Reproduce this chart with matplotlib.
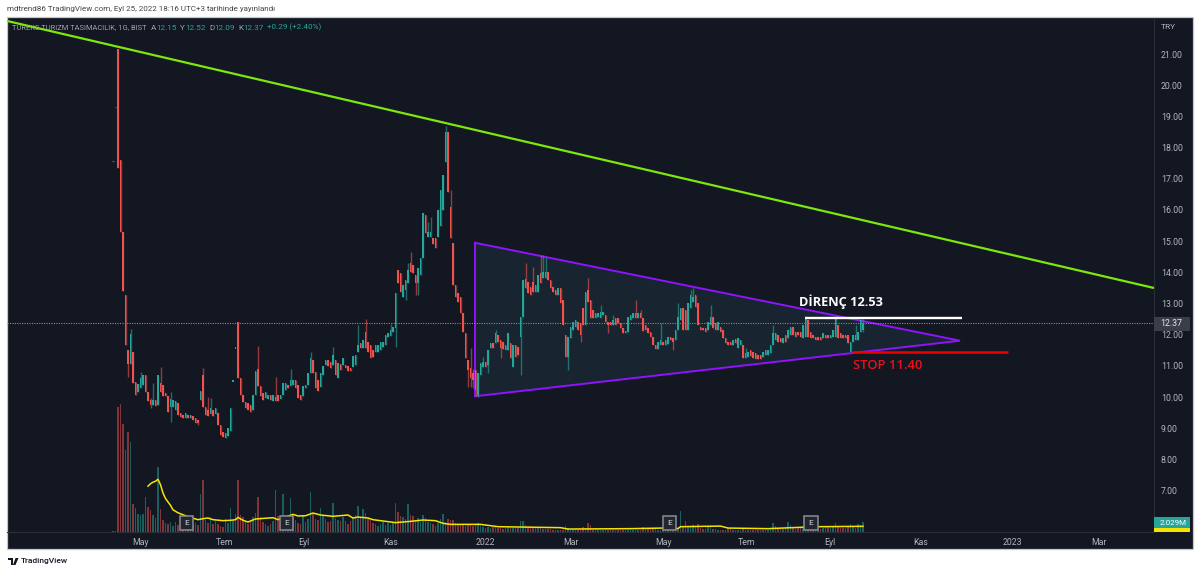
import matplotlib
matplotlib.use("Agg")
import matplotlib.pyplot as plt
from matplotlib.patches import Rectangle, Polygon
import numpy as np

W, H = 1200, 573
BG = "#131722"; UP = "#26a69a"; DOWN = "#ef5350"; AXT = "#b2b5be"

pre_prices = [17.57, 19.3]
pre_volume = [0.2, 0.3]
opens = [
 21.15,17.6,15.3,13.28,11.52,11.07,11.45,10.5,10.17,10.3,
 10.4,10.72,10.17,9.92,9.76,9.9,9.76,10.46,10.4,10.14,
 10.05,9.69,9.69,9.6,9.82,9.5,9.44,9.34,9.44,9.34,
 9.4,9.34,9.27,9.92,10.72,9.69,9.6,9.47,9.6,9.47,
 9.5,9.11,8.89,8.7,8.76,8.92,10.5,11.55,12.42,10.62,
 10.08,9.85,9.82,9.76,9.6,10.08,10.91,10.37,10.14,9.98,
 9.95,10.08,9.88,10.01,10.08,9.95,10.08,10.24,10.4,10.37,
 10.4,10.56,10.4,10.08,10.05,10.3,10.4,10.78,11.2,10.81,
 10.56,10.33,10.72,11.04,11.2,11.13,11.04,11.2,10.62,11.07,
 11.04,11.04,11.0,10.94,10.97,11.04,11.45,11.74,11.58,12.1,
 11.78,11.68,11.52,11.45,11.45,11.52,11.62,11.68,11.94,11.97,
 12.1,12.22,14.08,13.99,13.22,13.44,13.67,14.31,14.24,13.92,
 13.67,13.92,14.47,15.85,15.14,15.14,15.11,15.11,15.14,15.5,
 16.0,17.54,18.5,16.1,14.95,13.6,13.35,13.22,12.71,12.06,
 11.2,10.94,10.78,10.88,10.08,10.72,10.97,11.13,11.04,11.58,
 11.74,11.74,12.0,11.84,11.78,11.52,11.52,11.74,10.97,11.68,
 11.62,11.94,12.58,13.79,13.7,13.54,13.7,13.38,13.38,13.99,
 13.82,13.82,14.02,13.76,13.54,13.44,13.28,13.5,13.12,12.0,
 11.3,11.9,12.16,12.26,12.42,12.38,12.87,12.32,13.44,13.12,
 12.8,12.54,12.58,12.54,12.64,12.64,12.42,12.42,12.32,12.54,
 12.54,12.38,12.22,12.06,12.1,12.48,12.54,12.71,12.54,12.71,
 12.54,12.32,12.22,12.1,11.94,11.68,11.55,11.68,11.78,11.68,
 11.71,11.94,11.9,11.84,12.16,12.48,12.87,12.8,12.16,12.87,
 13.06,13.28,13.03,12.26,12.22,12.22,12.16,12.32,12.58,12.38,
 12.16,12.26,12.16,11.9,11.78,11.78,11.68,11.87,11.58,11.68,
 11.68,11.26,11.3,11.52,11.45,11.42,11.36,11.36,11.3,11.36,
 11.36,11.42,11.68,11.84,12.0,11.9,11.74,12.0,11.9,12.0,
 12.26,12.1,12.1,12.1,11.9,11.94,12.48,12.1,12.0,11.94,
 11.94,11.94,11.9,12.0,12.0,11.9,11.94,11.94,12.32,12.06,
 12.0,12.0,12.0,11.45,11.78,11.84,11.84,12.1,12.15]
closes = [
 17.35,15.3,13.4,11.68,11.07,12.03,10.46,10.08,10.43,10.62,
 10.72,10.17,9.88,9.76,9.92,9.72,10.72,10.17,10.05,10.05,
 9.53,9.95,9.92,9.88,9.44,9.37,9.34,9.5,9.34,9.44,
 9.27,9.18,9.18,10.2,9.69,9.44,9.41,9.66,9.4,9.66,
 9.11,8.8,8.73,8.86,9.02,9.66,10.5,11.55,10.62,10.08,
 9.85,9.66,9.6,9.53,10.08,10.85,10.37,10.05,9.92,10.17,
 10.08,9.92,10.08,9.88,9.88,10.08,10.46,10.46,10.3,10.56,
 10.56,10.3,9.98,9.92,10.37,10.4,10.78,11.26,10.78,10.3,
 10.2,10.78,11.0,11.2,11.0,10.94,11.36,10.72,11.1,10.88,
 11.26,10.94,10.85,10.85,11.33,11.36,11.68,11.58,11.84,11.58,
 11.45,11.26,11.3,11.68,11.68,11.78,11.78,12.0,12.06,12.16,
 12.26,13.35,13.67,13.38,13.6,13.76,14.08,14.02,13.99,13.67,
 14.15,14.47,15.91,15.27,15.3,15.3,14.92,14.79,16.0,16.65,
 17.13,18.5,16.58,15.11,13.6,13.22,13.06,12.71,12.1,11.26,
 10.88,10.62,10.56,10.24,10.78,11.1,11.13,10.97,11.52,11.74,
 11.58,12.06,11.78,11.58,11.55,11.68,12.06,11.26,11.68,11.3,
 11.36,12.58,13.76,13.5,13.35,13.28,13.38,13.6,13.92,13.67,
 14.02,14.02,13.76,13.5,13.38,13.28,13.5,13.03,12.32,11.3,
 11.94,12.26,12.42,12.48,12.16,12.0,12.32,13.38,13.06,12.54,
 12.54,12.71,12.71,12.74,12.74,12.42,12.32,12.32,12.48,12.32,
 12.38,12.22,12.06,12.13,12.58,12.64,12.71,12.54,12.71,12.54,
 12.13,12.16,12.06,11.94,11.68,11.55,11.78,11.84,11.68,11.84,
 11.94,11.84,11.78,12.16,12.58,12.87,12.16,12.16,13.03,13.28,
 13.22,12.9,12.32,12.16,12.16,12.1,12.42,12.58,12.22,12.16,
 12.42,12.1,11.9,11.74,11.68,11.68,11.84,11.74,11.9,11.84,
 11.26,11.42,11.45,11.33,11.26,11.23,11.23,11.23,11.45,11.52,
 11.52,11.68,12.06,12.06,11.78,11.78,11.9,11.78,12.16,12.26,
 12.0,11.94,12.0,11.94,12.32,12.54,11.94,11.9,11.9,11.84,
 11.84,11.84,12.06,11.9,11.9,12.0,12.16,12.54,11.9,11.9,
 11.9,11.9,11.74,11.78,12.0,12.0,12.1,12.48,12.37]
high_wicks = {5:12.19,9:10.81,13:9.98,14:10.46,17:10.97,21:10.17,34:10.95,36:10.0,37:9.98,56:11.65,
 63:10.65,69:10.91,77:11.45,86:11.62,96:12.32,99:12.51,109:12.35,116:14.31,117:14.66,124:15.6,
 125:15.78,131:18.7,133:16.65,141:11.58,142:10.9,146:11.3,151:12.15,163:14.31,166:14.18,169:14.56,
 170:14.56,171:14.5,188:13.82,193:12.96,198:12.64,207:13.12,209:12.8,217:12.38,224:13.03,229:13.44,
 230:13.5,237:12.96,251:11.58,262:12.32,275:12.6,287:12.6,295:12.32,297:12.52,298:12.52}
low_wicks = {4:10.65,13:9.66,21:9.21,32:9.1,111:11.62,115:13.12,119:13.28,120:13.28,140:10.33,141:10.33,
 142:10.3,143:10.05,144:10.0,148:10.78,153:11.26,161:10.72,180:10.88,185:11.78,196:12.06,222:11.5,298:12.09}
volume = [
 25.4,26,22,16.6,20.3,18.3,5.7,4.8,3.6,3.4,
 3.7,7.1,5,4.5,3.4,2.8,13.2,4.7,2.5,1.9,
 1.6,2,1.2,2.1,1.5,1.1,.9,1.4,.8,1.2,
 1.4,1.8,1.4,7.8,10.6,2.4,1.8,3,1.6,2.2,
 1.6,1.3,1,2.6,1.8,4.8,2.5,3.6,10.5,3.5,
 3,2.2,1.6,2.2,3,3.8,7.2,3,2,1.6,
 1.3,1.7,2.2,8.5,3.2,2.4,7.8,3.5,2.2,7,
 2.8,2.4,1.8,1.6,3.2,2,2.6,8.1,3.7,2.6,
 2.4,4.8,3.5,2.6,2,2.2,5.9,2.8,2.5,2.2,
 3,2.2,1.6,2.2,2.8,3.5,5.2,3,4.6,3.8,
 2.6,2.4,1.8,1.6,1.2,1.6,2,1.4,1.8,1.4,
 2,5.9,4,3.2,3,2.6,5.7,3.5,3.2,2.4,
 2.8,2,3.4,2.8,2,1.8,1.6,1.3,1.8,2.6,
 3.7,2,2.6,2.4,2.4,1.8,1.6,1.6,1.4,1.2,
 1.4,1.6,1.2,1.4,1.8,1.2,1,.9,1,.8,
 1,1,.9,.8,.7,.8,1,.9,.8,.8,
 .9,2.2,2.2,1.4,1.1,1.2,.9,.8,.8,.9,
 .7,.6,.7,.6,.5,.5,.4,.4,.5,1.2,
 .8,.5,.4,.4,.4,.5,1,.9,1.9,1.4,
 .5,.4,.5,.4,.4,.5,.4,.4,.4,.5,
 .4,.5,.5,.4,.5,.4,.5,.4,.4,.5,
 1,.8,.9,.6,.7,.8,.5,.5,.6,.5,
 .5,.6,.8,.6,.7,4.3,1.2,2.2,1,1.2,
 1.4,1.2,1.6,.9,.7,.7,1,1.1,.7,.6,
 .5,.4,.5,.5,.6,.6,.5,.4,.5,.4,
 .6,.4,.5,.4,.4,.5,.4,.5,.4,.5,
 .5,.6,1.8,1.2,.7,.7,.6,.8,2.1,1.4,
 .9,.7,.9,.8,1.2,1.6,1.3,.9,.7,.7,
 .9,.7,.8,1.3,1,.8,1,1.8,1.2,.9,
 .9,.8,1.1,1.7,1.2,.9,1.7,1.5,2.03]
ma_bars = [12,13,14,15,16,17,18,19,21,22,24,26,28,30,32,34,36,38,42,45,47,48,50,52,55,62,64,67,70,72,75,78,81,86,92,94,96,100,102,108,111,117,122,127,130,133,145,152,177,180,205,218,224,225,241,244,260,273,281,298]
ma_vals = [9.3,9.8,10.1,10.3,10.7,9.6,7.9,6.8,5.4,4.5,3.9,3.5,3.1,2.8,2.5,2.7,2.84,2.5,2.3,2.37,2.5,2.97,2.37,2.03,2.64,2.9,2.5,3.04,3.58,3.25,3.3,3.85,3.45,3.18,3.45,2.84,3.04,2.84,2.5,2.1,1.9,2.16,2.43,2.3,1.76,1.55,1.55,1.08,.88,.6,.68,.8,.7,1.08,1.2,.8,.68,.95,1.08,1.15]
time_labels = ["May","Tem","Eyl","Kas","2022","Mar","May","Tem","Eyl","Kas","2023","Mar"]
time_bars = [8.8,42.4,74.4,109.2,146.8,181.2,218,251.2,284.8,321.2,357.6,392.4]
price_ticks = list(range(7, 22))
earn_bars = [27.4,67.4,220.6,277.2]
green_line = ([-44.4,414.4],[22.06,13.5])
triangle = ([142.8,142.8,336.8],[14.95,10.03,11.81])
resistance = ([274.8,337.6],[12.53,12.53])
stop = ([293.6,356],[11.45,11.45])
last_price = 12.37

plt.rcParams['font.family'] = ['Roboto','DejaVu Sans']
fig = plt.figure(figsize=(W/100, H/100), dpi=100, facecolor="white")
def fx(x): return x/W
def fy(y): return 1-y/H
fig.add_artist(Rectangle((fx(6.5),fy(549)),(1193-6.5)/W,(549-17)/H,transform=fig.transFigure,
    facecolor=BG,edgecolor="#c4c7cc",lw=0.9,zorder=-1))
ax = fig.add_axes([fx(7),fy(532),(1154-7)/W,(532-18)/H],facecolor="none")
ax.set_xlim(-44.4,414.4); ax.set_ylim(5.679,22.154)

o = np.array(opens); c = np.array(closes); idx = np.arange(len(o))
hi = np.maximum(o,c); lo = np.minimum(o,c)
for k,v in high_wicks.items(): hi[k]=v
for k,v in low_wicks.items(): lo[k]=v
colors = [UP if a>=b else DOWN for a,b in zip(c,o)]
tri = Polygon(np.column_stack(triangle),closed=True,facecolor="#18242f",edgecolor="#9013fe",lw=1.4,zorder=2)
ax.add_patch(tri)
ax.axhline(last_price,color="#8a8d96",lw=0.8,ls=(0,(1,1.2)),zorder=3)
ax.vlines(idx,lo,hi,colors=colors,lw=1.0,alpha=0.6,zorder=4)
ax.bar(idx,np.maximum(np.abs(c-o),0.06),bottom=np.minimum(o,c),width=0.76,color=colors,lw=0,zorder=5)
ax.hlines(pre_prices,[-2.3,-1.3],[-1.8,-0.8],colors=UP,lw=0.9,alpha=.7,zorder=5)
ax.plot(*green_line,color="#7ce80c",lw=1.6,zorder=7,solid_capstyle="butt")
ax.plot(*resistance,color="white",lw=1.7,zorder=7,solid_capstyle="butt")
ax.plot(*stop,color="#f00000",lw=1.8,zorder=7,solid_capstyle="butt")
ax.text(272.4,13.07,"DİRENÇ 12.53",color="white",fontsize=9.2,fontweight="bold",family="Open Sans",va="center",ha="left",zorder=8)
ax.text(293.8,11.0,"STOP 11.40",color="#e8121b",fontsize=9.4,fontweight="semibold",family="Open Sans",va="center",ha="left",zorder=8)

ax.yaxis.tick_right()
ax.set_yticks(price_ticks); ax.set_yticklabels([f"{p:.2f}" for p in price_ticks],color=AXT,fontsize=6.3)
ax.set_xticks(time_bars); ax.set_xticklabels(time_labels,color=AXT,fontsize=6.3)
ax.tick_params(axis="both",length=0); ax.tick_params(axis="y",pad=5); ax.tick_params(axis="x",pad=4.2)
for s in ["top","left"]: ax.spines[s].set_visible(False)
ax.spines["right"].set_color("#2a2e39"); ax.spines["bottom"].set_color("#2a2e39")
ax.spines["right"].set_linewidth(0.8); ax.spines["bottom"].set_linewidth(0.8)

vax = fig.add_axes(ax.get_position(),facecolor="none",sharex=ax)
vax.set_ylim(0,104.3); vax.axis("off")
vol_idx = np.arange(len(volume))
vax.bar(vol_idx,volume,width=0.7,color=colors,alpha=0.5,lw=0,zorder=1)
vax.bar([-2,-1],pre_volume,width=0.7,color=UP,alpha=0.5,lw=0)
vax.plot(ma_bars,ma_vals,color="#f5e400",lw=1.1,zorder=3)
for b in earn_bars:
    vax.text(b,0.0175,"E",transform=vax.get_xaxis_transform(),ha="center",va="center",fontsize=6,color="#d1d4dc",zorder=6,
        bbox=dict(boxstyle="square,pad=0.5",fc="#22262f",ec="#8a8d96",lw=1.1))

def ftext(x,y,s,**kw): fig.text(fx(x),fy(y),s,**kw)
ftext(7,9.5,"mdtrend86 TradingView.com, Eyl 25, 2022 18:16 UTC+3 tarihinde yayınlandı",color="#444",fontsize=5.8,va="center")
hdr = dict(va="center",zorder=20)
ftext(12,27.5,"TUREKS TURIZM TASIMACILIK, 1G, BIST",color="#a0a3ad",fontsize=5.4,**hdr)
for x,s,col in [(151,"A","#a0a3ad"),(156,"12.15",UP),(180,"Y","#a0a3ad"),(185,"12.52",UP),(209,"D","#a0a3ad"),(214,"12.09",UP),
                (238,"K","#a0a3ad"),(243,"12.37",UP),(267,"+0.29 (+2.40%)",UP)]:
    ftext(x,27.5,s,color=col,fontsize=5.9,**hdr)
ftext(1161,27,"TRY",color=AXT,fontsize=6,va="center")
fig.add_artist(Rectangle((fx(1154),fy(331)),36/W,14/H,transform=fig.transFigure,fc="#3a3e49",ec="none",zorder=10))
ftext(1171,324,"12.37",color="#e6e7ea",fontsize=6.3,va="center",ha="center",zorder=11)
fig.add_artist(Rectangle((fx(1154),fy(532)),36/W,4/H,transform=fig.transFigure,fc="#f5e400",ec="none",zorder=10))
fig.add_artist(Rectangle((fx(1154),fy(528)),36/W,11/H,transform=fig.transFigure,fc=UP,ec="none",zorder=10))
ftext(1173,522.6,"2.029M",color="white",fontsize=5.8,va="center",ha="center",zorder=11)

fig.add_artist(Polygon([(fx(8),fy(558)),(fx(13),fy(558)),(fx(13),fy(565)),(fx(10.5),fy(565)),(fx(10.5),fy(560)),(fx(8),fy(560))],
    transform=fig.transFigure,fc="#131722",ec="none"))
fig.add_artist(Polygon([(fx(15.5),fy(558)),(fx(18.5),fy(558)),(fx(15.5),fy(565)),(fx(13),fy(565))],
    transform=fig.transFigure,fc="#131722",ec="none"))
ftext(20.5,561.5,"TradingView",color="#131722",fontsize=6,va="center",fontweight="medium")
fig.savefig("out.png",dpi=100,facecolor="white")
